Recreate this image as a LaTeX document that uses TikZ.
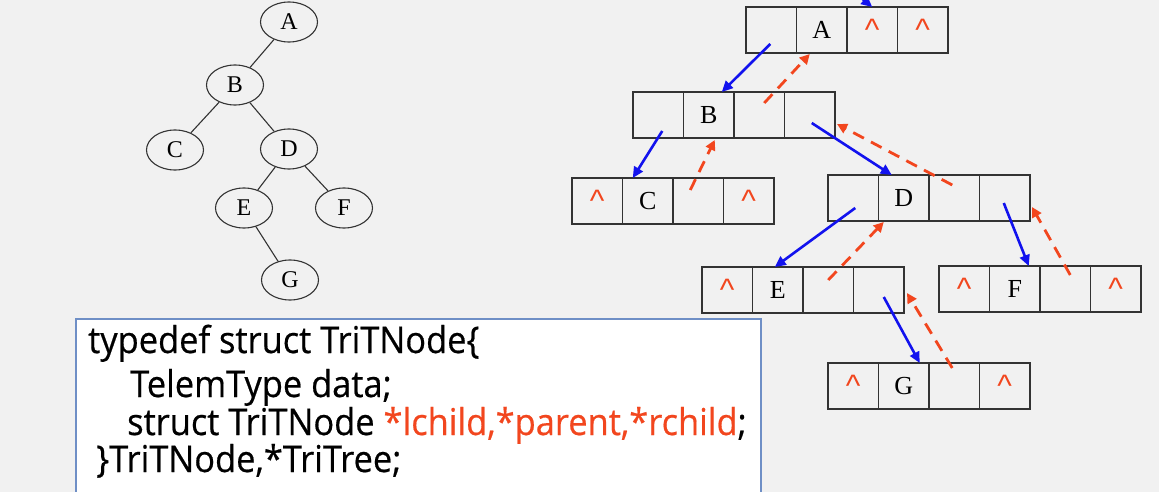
\documentclass[tikz,border=0pt]{standalone}
\usepackage{fontspec}
\setmainfont{Liberation Serif}
\newfontfamily\codefont[FakeStretch=0.93,FakeBold=0.5]{Open Sans}
\newfontfamily\caretfont{Liberation Sans}
\usetikzlibrary{calc,arrows.meta,shapes.geometric}
\definecolor{bg}{HTML}{F1F1F1}
\definecolor{cellgray}{HTML}{333333}
\definecolor{ptrblue}{HTML}{1212EE}
\definecolor{ptrred}{HTML}{F2461E}
\definecolor{boxblue}{HTML}{6F8FC6}
\tikzset{
  cell/.style={draw=cellgray, line width=1.5pt, fill=bg, minimum width=50.5pt,
    minimum height=46pt, inner sep=0pt, outer sep=0pt,
    font=\fontsize{26}{26}\selectfont},
  treenode/.style={ellipse, draw=cellgray, line width=1.1pt, minimum width=57pt,
    minimum height=40pt, inner sep=0pt, font=\fontsize{24}{24}\selectfont},
  treeedge/.style={draw=cellgray, line width=1.1pt},
  childptr/.style={draw=ptrblue, line width=2.6pt, -{Triangle[length=11pt,width=10pt]}},
  parentptr/.style={draw=ptrred, line width=2.8pt, dash pattern=on 12pt off 8pt,
    -{Triangle[length=10pt,width=10pt]}},
  codeline/.style={anchor=base west, inner sep=0pt, font=\codefont\fontsize{37}{37}\selectfont}
}
\newcommand{\nul}{\raisebox{-4pt}{\textcolor{ptrred}{\caretfont\fontsize{31}{31}\selectfont\textasciicircum}}}
\newcommand{\trirecord}[7]{%
  \node[cell,anchor=north west] (#1-1) at (#2,#3) {#4};
  \node[cell,anchor=north west] (#1-2) at (#1-1.north east) {#5};
  \node[cell,anchor=north west] (#1-3) at (#1-2.north east) {#6};
  \node[cell,anchor=north west] (#1-4) at (#1-3.north east) {#7};
}
\begin{document}
\begin{tikzpicture}[x=1pt,y=-1pt]
\useasboundingbox (0,0) rectangle (1159,492);
\fill[bg] (0,0) rectangle (1159,492);

% binary tree
\node[treenode] (tA) at (289,22) {A};
\node[treenode] (tB) at (235,85) {B};
\node[treenode] (tC) at (175,150) {C};
\node[treenode] (tD) at (289,149) {D};
\node[treenode] (tE) at (244,208) {E};
\node[treenode] (tF) at (344,208) {F};
\node[treenode] (tG) at (290,280) {G};
\draw[treeedge] (tA) -- (tB);
\draw[treeedge] (tB) -- (tC);
\draw[treeedge] (tB) -- (tD);
\draw[treeedge] (tD) -- (tE);
\draw[treeedge] (tD) -- (tF);
\draw[treeedge] (tE) -- (tG);

% trident linked list
\trirecord{A}{746}{7}{}{A}{\nul}{\nul}
\trirecord{B}{633}{92}{}{B}{}{}
\trirecord{C}{572}{178}{\nul}{C}{}{\nul}
\trirecord{D}{828}{175}{}{D}{}{}
\trirecord{E}{702}{267}{\nul}{E}{}{}
\trirecord{F}{939}{266}{\nul}{F}{}{\nul}
\trirecord{G}{828}{363}{\nul}{G}{}{\nul}

\coordinate (root) at (859,-4);
\draw[childptr] (root) -- (A-3.north);
\draw[childptr] ($(A-1.center)+(-1,14)$) -- ($(B-2.north)+(13,0)$);
\draw[childptr] ($(B-1.center)+(4,16)$) -- ($(C-2.north)+(-15,0)$);
\draw[childptr] ($(B-4.center)+(2,8)$) -- ($(D-2.north)+(-12,0)$);
\draw[childptr] ($(D-1.center)+(2,10)$) -- ($(E-2.north)+(-3,0)$);
\draw[childptr] ($(D-4.center)+(-1,5)$) -- ($(F-2.north)+(14,0)$);
\draw[childptr] ($(E-4.center)+(5,7)$) -- ($(G-2.north)+(16,0)$);

\draw[parentptr] ($(B-3.center)+(5,-12)$) -- ($(A-2.south)+(-12,1)$);
\draw[parentptr] ($(C-3.center)+(-8,-11)$) -- ($(B-2.south)+(6,2)$);
\draw[parentptr] ($(D-3.center)+(-2,-13)$) -- ($(B-4.east)+(2,9)$);
\draw[parentptr] ($(E-3.center)+(0,-10)$) -- ($(D-2.south)+(-20,1)$);
\draw[parentptr] ($(F-3.center)+(5,-14)$) -- ($(D-4.east)+(2,9)$);
\draw[parentptr] ($(G-3.center)+(-2,-18)$) -- ($(E-4.east)+(3,3)$);

% code box
\node[draw=boxblue, line width=2pt, fill=white, anchor=north west, minimum width=685pt,
  minimum height=190pt, inner sep=0pt] (code) at (75,318) {};
\node[codeline] (l1) at (88,353) {typedef struct TriTNode\{};
\node[codeline] (l2) at (130,397) {TelemType data;};
\node[codeline] (l3) at (127,435) {struct TriTNode \textcolor{ptrred}{*lchild,*parent,*rchild};};
\node[codeline] (l4) at (96,472) {\}TriTNode,*TriTree;};
\end{tikzpicture}
\end{document}
